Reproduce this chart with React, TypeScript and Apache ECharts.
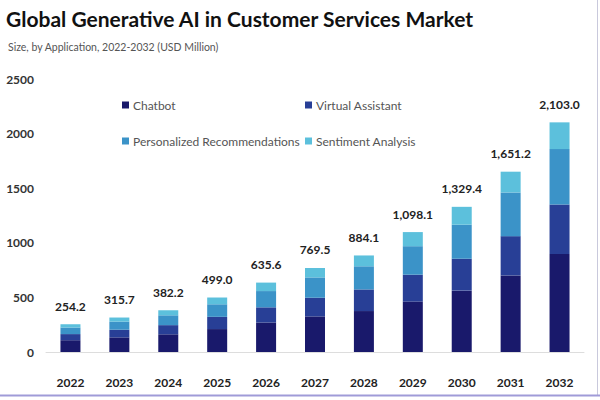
import React, { useEffect, useRef } from "react";
import * as echarts from "echarts";

const years = ["2022", "2023", "2024", "2025", "2026", "2027", "2028", "2029", "2030", "2031", "2032"];
const chatbot = [108, 134, 162, 210, 270, 326, 375, 462, 562, 701, 897];
const virtualAssistant = [56, 70, 84, 112, 139, 171, 198, 246, 292, 360, 454];
const personalized = [60, 74, 90, 115, 149, 186, 212, 261, 312, 400, 507];
const sentiment = [30.2, 37.7, 46.2, 62, 77.6, 86.5, 99.1, 129.1, 163.4, 190.2, 245];
const totals = [254.2, 315.7, 382.2, 499.0, 635.6, 769.5, 884.1, 1098.1, 1329.4, 1651.2, 2103.0];
const yTicks = { min: 0, max: 2500, interval: 500 };

const names = ["Chatbot", "Virtual Assistant", "Personalized Recommendations", "Sentiment Analysis"];
const colors = ["#19196b", "#283f96", "#3b93c8", "#5cc0dc"];

const fmt = (v: number) =>
  v.toLocaleString("en-US", { minimumFractionDigits: 1, maximumFractionDigits: 1 });

export default function App() {
  const ref = useRef<HTMLDivElement>(null);
  useEffect(() => {
    if (!ref.current) return;
    const chart = echarts.init(ref.current, undefined, { renderer: "svg" });
    const font = "Lato, 'Noto Sans', sans-serif";
    const legendPos = [
      { left: 122, top: 99 },
      { left: 305, top: 99 },
      { left: 122, top: 135 },
      { left: 305, top: 135 },
    ];
    const seriesData = [chatbot, virtualAssistant, personalized, sentiment];
    chart.setOption({
      animation: false,
      textStyle: { fontFamily: font },
      title: [
        {
          text: "Global Generative AI in Customer Services Market",
          left: 6,
          top: 8,
          padding: 0,
          textStyle: { fontSize: 21, fontWeight: "bold", color: "#111", fontFamily: font },
        },
        {
          text: "Size, by Application, 2022-2032 (USD Million)",
          left: 8,
          top: 41,
          padding: 0,
          textStyle: { fontSize: 10.5, fontWeight: "normal", color: "#555", fontFamily: font },
        },
      ],
      legend: names.map((n, i) => ({
        data: [n],
        left: legendPos[i].left,
        top: legendPos[i].top,
        padding: 0,
        icon: "rect",
        itemWidth: 7,
        itemHeight: 7,
        itemGap: 5,
        selectedMode: false,
        textStyle: { fontSize: 12, color: "#555", fontFamily: font, padding: [0, 0, 0, -1] },
      })),
      grid: { left: 46, right: 16, top: 79, bottom: 48, containLabel: false },
      xAxis: {
        type: "category",
        data: years,
        axisLine: { lineStyle: { color: "#dddddd", width: 1 } },
        axisTick: { show: false },
        axisLabel: { fontSize: 12, fontWeight: "bold", color: "#222", margin: 24, fontFamily: font },
      },
      yAxis: {
        type: "value",
        min: yTicks.min,
        max: yTicks.max,
        interval: yTicks.interval,
        splitLine: { show: false },
        axisLine: { show: false },
        axisTick: { show: false },
        axisLabel: {
          fontSize: 12,
          fontWeight: "bold",
          color: "#333",
          margin: 12,
          fontFamily: font,
          formatter: (v: number) => String(v),
        },
      },
      series: names.map((n, i) => ({
        name: n,
        type: "bar",
        stack: "total",
        barWidth: 20,
        data: seriesData[i],
        itemStyle: { color: colors[i] },
        label:
          i === 3
            ? {
                show: true,
                position: "top",
                distance: 12,
                fontSize: 12,
                fontWeight: "bold",
                color: "#222",
                fontFamily: font,
                formatter: (p: any) => fmt(totals[p.dataIndex]),
              }
            : { show: false },
      })),
      graphic: [
        {
          type: "line",
          shape: { x1: 597.5, y1: 0, x2: 597.5, y2: 396 },
          style: { stroke: "#c9c9dc", lineWidth: 1 },
          silent: true,
        },
        {
          type: "line",
          shape: { x1: 0, y1: 395.5, x2: 600, y2: 395.5 },
          style: { stroke: "#a09bd8", lineWidth: 2 },
          silent: true,
        },
      ],
    });
    return () => chart.dispose();
  }, []);
  return <div ref={ref} style={{ width: 600, height: 400, position: "fixed", left: 0, top: 0, background: "#fff" }} />;
}
